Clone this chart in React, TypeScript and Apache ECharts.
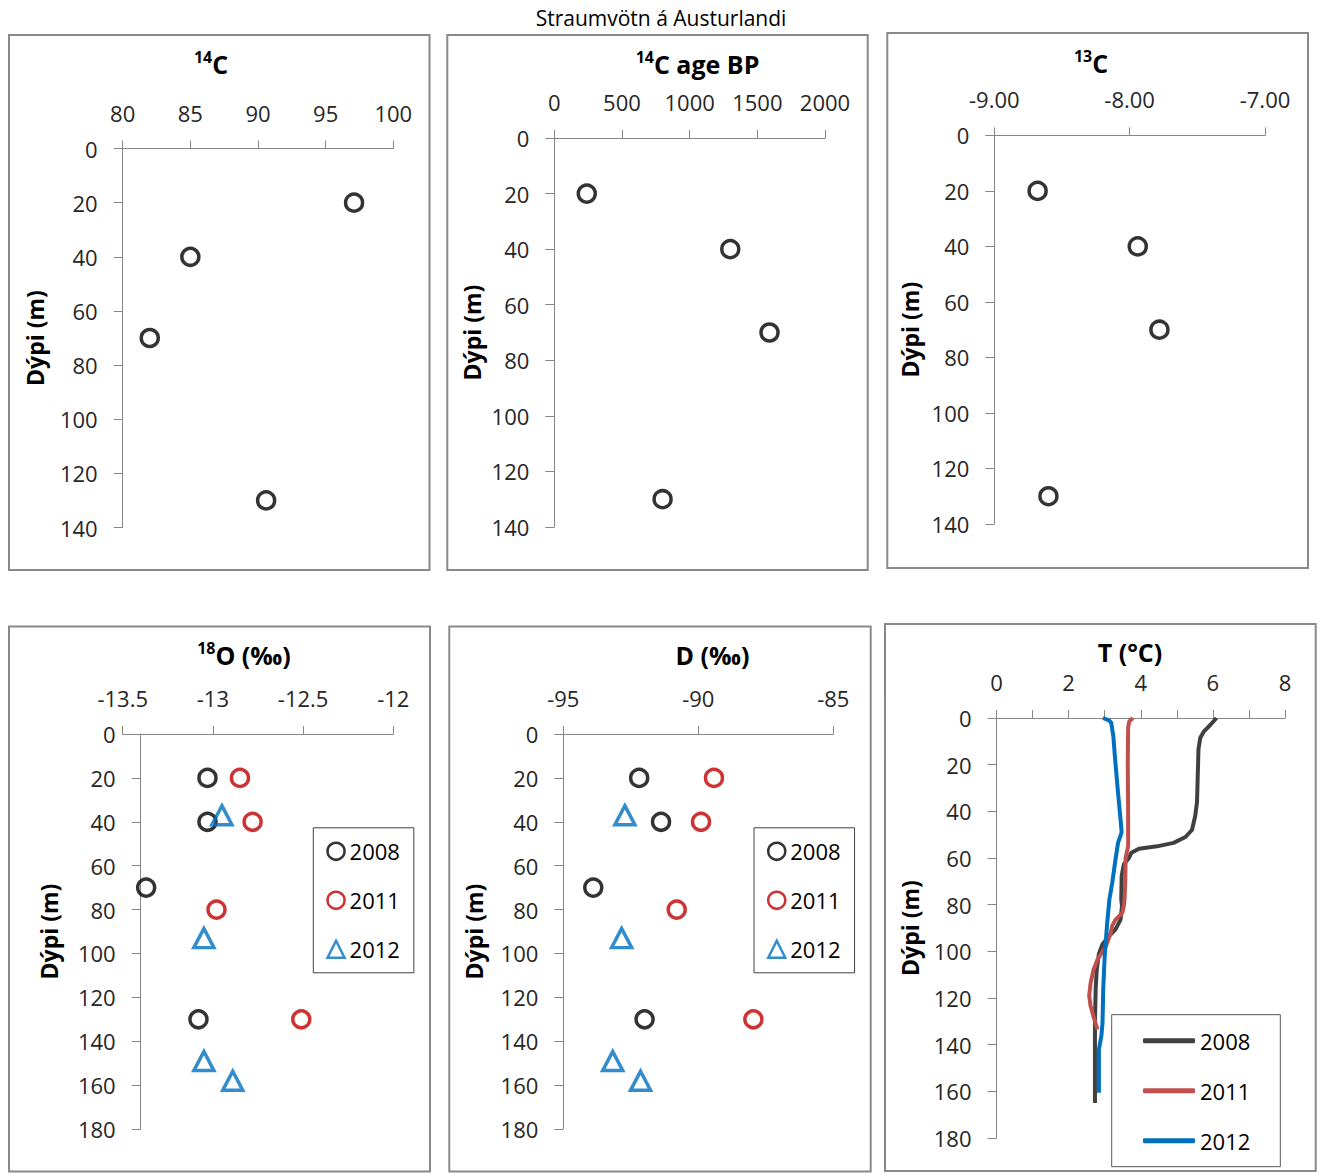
import React, { useEffect, useRef } from "react";
import * as echarts from "echarts";

// ---------- DATA ----------
const pageTitle = "Straumvötn á Austurlandi";
const depthLabel = "Dýpi (m)";
const years = ["2008", "2011", "2012"];

// Top row (single campaign)
const depthTop = [20, 40, 70, 130];
const c14 = [97.1, 85.0, 82.0, 90.6];
const c14Age = [240, 1300, 1590, 800];
const c13 = [-8.68, -7.94, -7.78, -8.6];

// Bottom row: 18O and D by year
const depth2008 = [20, 40, 70, 130];
const depth2011 = [20, 40, 80, 130];
const depth2012 = [37, 93, 149, 158];
const o18_2008 = [-13.03, -13.03, -13.37, -13.08];
const o18_2011 = [-12.85, -12.78, -12.98, -12.51];
const o18_2012 = [-12.95, -13.05, -13.05, -12.89];
const d_2008 = [-92.19, -91.38, -93.89, -91.99];
const d_2011 = [-89.42, -89.9, -90.8, -87.96];
const d_2012 = [-92.72, -92.84, -93.17, -92.14];

// Temperature profiles
const tDepth2008 = [0, 2.8, 5.6, 8.5, 13.5, 25, 36, 42, 48, 51, 53.5, 55, 56, 57.8, 60, 62.8, 67.8, 77.8, 80.6, 86.4, 90.6, 93.5, 97, 101, 107.8, 116, 130.6, 165];
const temp2008 = [6.1, 5.94, 5.76, 5.65, 5.6, 5.58, 5.56, 5.51, 5.42, 5.24, 4.91, 4.45, 3.95, 3.74, 3.67, 3.53, 3.47, 3.46, 3.48, 3.44, 3.3, 3.12, 2.94, 2.84, 2.78, 2.75, 2.73, 2.73];
const tDepth2011 = [0, 1.5, 4, 20, 40, 55, 60, 70, 78, 80.6, 83.5, 86.4, 89, 92, 98, 103.5, 108, 113.5, 119, 123.5, 129, 133.5];
const temp2011 = [3.78, 3.68, 3.65, 3.64, 3.65, 3.65, 3.58, 3.57, 3.55, 3.53, 3.49, 3.3, 3.21, 3.17, 3.03, 2.8, 2.69, 2.61, 2.57, 2.61, 2.71, 2.8];
const tDepth2012 = [0, 1, 2, 7.8, 17.8, 32, 43.5, 49, 53.5, 60.6, 70.6, 77.8, 87.8, 102, 116, 130.6, 136, 142, 153, 160.6];
const temp2012 = [2.95, 3.12, 3.18, 3.24, 3.29, 3.37, 3.44, 3.47, 3.37, 3.3, 3.21, 3.13, 3.07, 3.0, 2.96, 2.94, 2.91, 2.84, 2.84, 2.84];

// ---------- STYLE ----------
const FONT = '"Open Sans", "DejaVu Sans", sans-serif';
const AXIS_COLOR = "#868686";
const LABEL_COLOR = "#262626";
const C2008 = "#000000";
const C2011 = "#C00000";
const C2012 = "#0070C0";
const L2008 = "#404040";
const L2011 = "#C0504D";
const L2012 = "#0070C0";

const pairs = (xs: number[], ds: number[]) => ds.map((d, i) => [xs[i], d]);

const grids = [
  { left: 122.7, top: 148.5, width: 270.6, height: 379 },
  { left: 554.3, top: 138, width: 270.7, height: 389 },
  { left: 994.3, top: 135.4, width: 270.7, height: 388.6 },
  { left: 122.7, top: 734, width: 270.6, height: 395 },
  { left: 563.3, top: 734, width: 270, height: 395 },
  { left: 996.5, top: 718, width: 288.5, height: 420 },
];

function xAxisCfg(gi: number, min: number, max: number, interval: number, extra: any = {}) {
  return {
    type: "value",
    gridIndex: gi,
    position: "top",
    min,
    max,
    interval,
    axisLine: { show: true, onZero: false, lineStyle: { color: AXIS_COLOR, width: 1 } },
    axisTick: { show: true, length: 8, lineStyle: { color: AXIS_COLOR } },
    axisLabel: {
      fontSize: 22,
      fontFamily: FONT,
      color: LABEL_COLOR,
      margin: 25,
      formatter: (v: number) => String(v),
      ...(extra.axisLabel || {}),
    },
    splitLine: { show: false },
    minorTick: extra.minorTick,
  };
}

function yAxisCfg(gi: number, max: number, nameGap: number, offset = 0) {
  return {
    type: "value",
    gridIndex: gi,
    inverse: true,
    min: 0,
    max,
    interval: 20,
    offset,
    name: depthLabel,
    nameLocation: "middle",
    nameGap,
    nameTextStyle: { fontSize: 23, fontWeight: "bold", fontFamily: FONT, color: "#000" },
    axisLine: { show: true, onZero: false, lineStyle: { color: AXIS_COLOR, width: 1 } },
    axisTick: { show: true, length: 9, lineStyle: { color: AXIS_COLOR } },
    axisLabel: { fontSize: 22, fontFamily: FONT, color: LABEL_COLOR, margin: 25 },
    splitLine: { show: false },
  };
}

function scatter(name: string, gi: number, data: number[][], color: string, tri = false) {
  return {
    type: "scatter",
    name,
    xAxisIndex: gi,
    yAxisIndex: gi,
    data,
    symbol: tri ? "triangle" : "circle",
    symbolSize: tri ? [20, 19] : 17,
    itemStyle: { color: "rgba(255,255,255,0)", borderColor: color, borderWidth: 3.5 },
    z: 3,
  };
}

function line(name: string, data: number[][], color: string) {
  return {
    type: "line",
    name,
    xAxisIndex: 5,
    yAxisIndex: 5,
    data,
    showSymbol: false,
    symbol: "none",
    itemStyle: { color },
    lineStyle: { color, width: 4 },
    z: 3,
  };
}

const legendText = { fontSize: 22, lineHeight: 26, fontFamily: FONT, color: "#000" };
const fmt = (n: string) => n.split("|")[0];

function titleText(x: number, y: number, sup: string, main: string) {
  return {
    type: "text",
    x,
    y,
    z: 10,
    style: {
      text: sup ? `{s|${sup}}{b|${main}}` : `{b|${main}}`,
      align: "center",
      verticalAlign: "middle",
      rich: {
        s: { fontSize: 16, lineHeight: 16, fontWeight: "bold", fontFamily: FONT, fill: "#000", color: "#000", verticalAlign: "top" },
        b: { fontSize: 25, lineHeight: 30, fontWeight: "bold", fontFamily: FONT, fill: "#000", color: "#000" },
      },
    },
  };
}

function border(x: number, y: number, w: number, h: number) {
  return {
    type: "rect",
    z: 0,
    shape: { x, y, width: w, height: h },
    style: { fill: "none", stroke: "#898989", lineWidth: 2 },
  };
}

const legendBase = {
  orient: "vertical",
  formatter: fmt,
  borderColor: "#404040",
  borderWidth: 1,
  backgroundColor: "#fff",
  textStyle: legendText,
  selectedMode: false,
};

const option: any = {
  animation: false,
  backgroundColor: "#ffffff",
  grid: grids.map((g) => ({ ...g, containLabel: false, outerBoundsMode: "none" })),
  xAxis: [
    xAxisCfg(0, 80, 100, 5),
    xAxisCfg(1, 0, 2000, 500),
    xAxisCfg(2, -9, -7, 1, { axisLabel: { formatter: (v: number) => v.toFixed(2) } }),
    xAxisCfg(3, -13.5, -12, 0.5),
    xAxisCfg(4, -95, -85, 5),
    xAxisCfg(5, 0, 8, 2, { minorTick: { show: true, splitNumber: 2, length: 8, lineStyle: { color: AXIS_COLOR } } }),
  ],
  yAxis: [
    yAxisCfg(0, 140, 76),
    yAxisCfg(1, 140, 71),
    yAxisCfg(2, 140, 73),
    yAxisCfg(3, 180, 80, -18),
    yAxisCfg(4, 180, 78),
    yAxisCfg(5, 180, 75),
  ],
  legend: [
    {
      ...legendBase,
      left: 313.3,
      top: 827.8,
      data: ["2008|O", "2011|O", "2012|O"],
      itemWidth: 17,
      itemHeight: 17,
      itemGap: 23,
      padding: [10.5, 14, 10.5, 13],
      itemStyle: { borderWidth: 2.5 },
    },
    {
      ...legendBase,
      left: 754,
      top: 827.8,
      data: ["2008|D", "2011|D", "2012|D"],
      itemWidth: 17,
      itemHeight: 17,
      itemGap: 23,
      padding: [10.5, 14, 10.5, 13],
      itemStyle: { borderWidth: 2.5 },
    },
    {
      ...legendBase,
      borderColor: "#595959",
      left: 1111.7,
      top: 1014.7,
      data: ["2008|T", "2011|T", "2012|T"],
      icon: "roundRect",
      itemWidth: 52,
      itemHeight: 5,
      itemGap: 24,
      padding: [13, 30, 13, 31.3],
    },
  ],
  series: [
    scatter("14C", 0, pairs(c14, depthTop), C2008),
    scatter("14C age BP", 1, pairs(c14Age, depthTop), C2008),
    scatter("13C", 2, pairs(c13, depthTop), C2008),
    scatter(years[0] + "|O", 3, pairs(o18_2008, depth2008), C2008),
    scatter(years[1] + "|O", 3, pairs(o18_2011, depth2011), C2011),
    scatter(years[2] + "|O", 3, pairs(o18_2012, depth2012), C2012, true),
    scatter(years[0] + "|D", 4, pairs(d_2008, depth2008), C2008),
    scatter(years[1] + "|D", 4, pairs(d_2011, depth2011), C2011),
    scatter(years[2] + "|D", 4, pairs(d_2012, depth2012), C2012, true),
    line(years[0] + "|T", pairs(temp2008, tDepth2008), L2008),
    line(years[1] + "|T", pairs(temp2011, tDepth2011), L2011),
    line(years[2] + "|T", pairs(temp2012, tDepth2012), L2012),
  ],
  graphic: [
    border(9, 35, 420.5, 535),
    border(447.3, 35, 420.4, 535),
    border(887.3, 33, 420.7, 535),
    border(9, 626.5, 421, 545),
    border(449.3, 626.5, 421.4, 545),
    border(885, 624, 430.7, 547),
    {
      type: "text",
      x: 661,
      y: 18,
      z: 10,
      style: { text: pageTitle, font: `21px ${FONT}`, fill: "#000", align: "center", verticalAlign: "middle" },
    },
    titleText(211, 64, "14", "C"),
    titleText(697.5, 64, "14", "C age BP"),
    titleText(1091, 62.5, "13", "C"),
    titleText(244, 655, "18", "O (‰)"),
    titleText(712.5, 655, "", "D (‰)"),
    titleText(1130, 652, "", "T (°C)"),
  ],
};

export default function App() {
  const ref = useRef<HTMLDivElement>(null);
  useEffect(() => {
    if (!ref.current) return;
    const chart = echarts.init(ref.current, null, { renderer: "svg", width: 1321, height: 1174 });
    chart.setOption(option);
    return () => chart.dispose();
  }, []);
  return (
    <div
      ref={ref}
      style={{ position: "absolute", left: 0, top: 0, width: 1321, height: 1174, background: "#fff" }}
    />
  );
}
